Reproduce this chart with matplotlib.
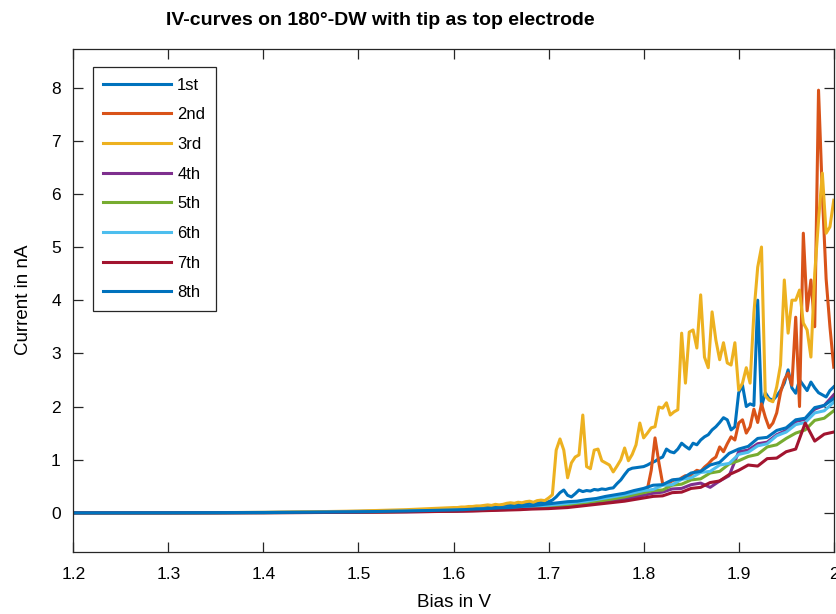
#!/usr/bin/env python3
"""IV-curves on a 180 deg domain wall, tip as top electrode (8 sweeps)."""

import numpy as np
import matplotlib
matplotlib.rcParams.update({
    'font.family': ['Liberation Sans', 'DejaVu Sans'],
    'xtick.direction': 'in',
    'ytick.direction': 'in',
})
import matplotlib.pyplot as plt

# Bias grids (V): noisy sweeps are sampled finer than the smooth ones
X_FINE = np.round(np.concatenate([np.arange(1.20, 1.56, 0.05),
                                  np.arange(1.600, 2.0001, 0.004)]), 3)
X_COARSE = np.round(np.concatenate([[1.2, 1.3, 1.4, 1.45, 1.5, 1.55],
                                    np.arange(1.60, 2.0001, 0.01)]), 3)

# Current (nA)
I_1ST = [0.0, 0.0, 0.002, 0.004, 0.009, 0.016, 0.028, 0.045,
         0.07, 0.07, 0.08, 0.08, 0.09, 0.09, 0.10, 0.10, 0.11, 0.11,
         0.12, 0.12, 0.13, 0.12, 0.14, 0.15, 0.14, 0.16, 0.15, 0.17,
         0.18, 0.17, 0.19, 0.20, 0.19, 0.21, 0.24, 0.30, 0.38, 0.43,
         0.33, 0.30, 0.36, 0.43, 0.40, 0.42, 0.41, 0.44, 0.43, 0.45,
         0.44, 0.46, 0.47, 0.55, 0.62, 0.72, 0.81, 0.84, 0.85, 0.86,
         0.87, 0.90, 0.94, 0.97, 1.02, 1.05, 1.20, 1.15, 1.13, 1.20,
         1.31, 1.25, 1.20, 1.31, 1.28, 1.37, 1.43, 1.47, 1.56, 1.62,
         1.70, 1.79, 1.75, 1.56, 1.62, 2.26, 2.40, 2.00, 2.05, 2.02,
         4.00, 2.00, 2.26, 2.15, 2.12, 2.20, 2.30, 2.44, 2.69, 2.35,
         2.25, 2.50, 2.40, 2.30, 2.46, 2.35, 2.26, 2.22, 2.18, 2.30,
         2.37]
I_2ND = [0.0, 0.0, 0.001, 0.003, 0.006, 0.01, 0.018, 0.028,
         0.04, 0.04, 0.05, 0.05, 0.05, 0.06, 0.06, 0.06, 0.07, 0.07,
         0.07, 0.08, 0.08, 0.08, 0.09, 0.09, 0.09, 0.10, 0.10, 0.11,
         0.11, 0.12, 0.12, 0.13, 0.13, 0.14, 0.14, 0.15, 0.15, 0.16,
         0.16, 0.17, 0.17, 0.18, 0.19, 0.19, 0.20, 0.21, 0.21, 0.22,
         0.23, 0.24, 0.25, 0.25, 0.27, 0.28, 0.30, 0.31, 0.33, 0.35,
         0.37, 0.45, 0.80, 1.41, 0.95, 0.55, 0.52, 0.58, 0.62, 0.60,
         0.66, 0.70, 0.68, 0.75, 0.80, 0.78, 0.86, 0.92, 1.00, 1.05,
         1.24, 1.15, 1.30, 1.43, 1.37, 1.69, 1.75, 1.50, 1.62, 1.95,
         1.70, 2.05, 1.80, 1.60, 1.69, 1.88, 2.26, 2.50, 2.63, 2.40,
         3.68, 2.00, 5.26, 3.80, 4.38, 3.50, 7.95, 6.00, 4.40, 3.50,
         2.74]
I_3RD = [0.0, 0.0, 0.002, 0.005, 0.01, 0.02, 0.035, 0.06,
         0.10, 0.10, 0.11, 0.11, 0.12, 0.12, 0.13, 0.13, 0.14, 0.15,
         0.14, 0.16, 0.15, 0.16, 0.18, 0.19, 0.18, 0.20, 0.19, 0.21,
         0.22, 0.20, 0.23, 0.24, 0.23, 0.28, 0.34, 1.18, 1.39, 1.18,
         0.66, 0.94, 1.05, 1.09, 1.84, 0.87, 0.83, 1.18, 1.20, 0.98,
         0.94, 0.90, 0.77, 0.88, 1.00, 1.22, 0.98, 1.10, 1.28, 1.69,
         1.41, 1.50, 1.60, 1.62, 1.99, 1.97, 2.07, 1.84, 1.90, 1.94,
         3.38, 2.44, 3.40, 3.44, 3.10, 4.10, 2.93, 2.73, 3.78, 3.25,
         2.88, 3.20, 2.82, 2.78, 3.20, 2.31, 2.44, 2.73, 2.44, 3.76,
         4.62, 5.00, 2.20, 2.12, 2.09, 2.37, 2.78, 4.38, 3.38, 4.00,
         4.00, 4.19, 3.57, 3.44, 2.93, 4.50, 5.50, 6.39, 5.26, 5.38,
         5.88]
I_4TH = [0.0, 0.001, 0.004, 0.007, 0.013, 0.02,
         0.03, 0.035, 0.04, 0.045, 0.05, 0.06, 0.065, 0.07, 0.08, 0.09,
         0.10, 0.11, 0.12, 0.14, 0.16, 0.18, 0.20, 0.23, 0.26, 0.29,
         0.33, 0.37, 0.39, 0.45, 0.46, 0.53, 0.56, 0.48, 0.60, 0.70,
         1.15, 1.18, 1.30, 1.33, 1.47, 1.55, 1.72, 1.76, 1.95, 2.02,
         2.22]
I_5TH = [0.0, 0.002, 0.004, 0.008, 0.015, 0.025,
         0.04, 0.045, 0.05, 0.055, 0.06, 0.07, 0.075, 0.09, 0.10, 0.11,
         0.12, 0.13, 0.15, 0.17, 0.19, 0.22, 0.24, 0.27, 0.30, 0.34,
         0.38, 0.42, 0.43, 0.52, 0.54, 0.62, 0.64, 0.75, 0.78, 0.92,
         0.98, 1.06, 1.10, 1.24, 1.28, 1.40, 1.50, 1.56, 1.74, 1.78,
         1.92]
I_6TH = [0.0, 0.002, 0.005, 0.01, 0.018, 0.03,
         0.05, 0.055, 0.06, 0.07, 0.075, 0.085, 0.095, 0.105, 0.12, 0.13,
         0.145, 0.16, 0.18, 0.20, 0.22, 0.25, 0.28, 0.31, 0.34, 0.38,
         0.42, 0.44, 0.52, 0.53, 0.63, 0.66, 0.76, 0.78, 0.90, 0.93,
         1.10, 1.14, 1.26, 1.30, 1.45, 1.52, 1.66, 1.70, 1.88, 1.92,
         2.08]
I_7TH = [0.0, 0.001, 0.003, 0.006, 0.011, 0.018,
         0.03, 0.032, 0.035, 0.04, 0.045, 0.05, 0.055, 0.06, 0.07, 0.075,
         0.08, 0.09, 0.10, 0.12, 0.14, 0.16, 0.18, 0.20, 0.22, 0.25,
         0.28, 0.31, 0.32, 0.38, 0.39, 0.46, 0.48, 0.57, 0.60, 0.72,
         0.80, 0.90, 0.88, 1.02, 1.03, 1.15, 1.20, 1.69, 1.35, 1.48,
         1.52]
I_8TH = [0.0, 0.002, 0.006, 0.012, 0.02, 0.035,
         0.055, 0.06, 0.07, 0.075, 0.085, 0.095, 0.10, 0.12, 0.13, 0.15,
         0.17, 0.19, 0.21, 0.22, 0.25, 0.27, 0.31, 0.34, 0.37, 0.42,
         0.46, 0.52, 0.53, 0.62, 0.64, 0.75, 0.78, 0.90, 0.95, 1.12,
         1.20, 1.25, 1.40, 1.42, 1.55, 1.60, 1.75, 1.78, 1.98, 2.02,
         2.15]

LABELS = ['1st', '2nd', '3rd', '4th', '5th', '6th', '7th', '8th']

# MATLAB default line colour order
COLORS = ['#0072BD', '#D95319', '#EDB120', '#7E2F8E',
          '#77AC30', '#4DBEEE', '#A2142F', '#0072BD']
AX_COLOR = '#262626'


def main():
    fig = plt.figure(figsize=(8.37, 6.14), dpi=100)
    ax = fig.add_axes([0.0876, 0.1015, 0.9085, 0.8192])

    series = [(X_FINE, I_1ST), (X_FINE, I_2ND), (X_FINE, I_3RD),
              (X_COARSE, I_4TH), (X_COARSE, I_5TH), (X_COARSE, I_6TH),
              (X_COARSE, I_7TH), (X_COARSE, I_8TH)]
    for (x, y), lab, c in zip(series, LABELS, COLORS):
        ax.plot(x, y, color=c, linewidth=2.2, label=lab)

    ax.set_xlim(1.2, 2.0)
    ax.set_ylim(-0.73, 8.73)
    ax.set_xticks(np.round(np.arange(1.2, 2.01, 0.1), 1))
    ax.set_xticklabels(['1.2', '1.3', '1.4', '1.5', '1.6', '1.7', '1.8', '1.9', '2'])
    ax.set_yticks(range(0, 9))

    for s in ax.spines.values():
        s.set_color(AX_COLOR)
        s.set_linewidth(0.9)
    ax.tick_params(axis='both', which='both', top=True, right=True,
                   length=7, width=0.9, color=AX_COLOR, labelcolor='black',
                   labelsize=12.5)
    ax.tick_params(axis='x', pad=11)
    ax.tick_params(axis='y', pad=9)

    ax.set_xlabel('Bias in V', fontsize=13.5, labelpad=9)
    ax.set_ylabel('Current in nA', fontsize=13.5, labelpad=14)
    fig.text(0.454, 0.967, 'IV-curves on 180°-DW with tip as top electrode',
             ha='center', va='center', fontsize=14, fontweight='bold')

    leg = ax.legend(loc='upper left', bbox_to_anchor=(0.0255, 0.963),
                    borderaxespad=0, fontsize=12, handlelength=4.1,
                    handletextpad=0.35, labelspacing=0.88, borderpad=0.62,
                    fancybox=False, framealpha=1, edgecolor=AX_COLOR)
    leg.get_frame().set_linewidth(0.9)

    fig.savefig('out.png', dpi=100)
    plt.close(fig)


if __name__ == '__main__':
    main()
